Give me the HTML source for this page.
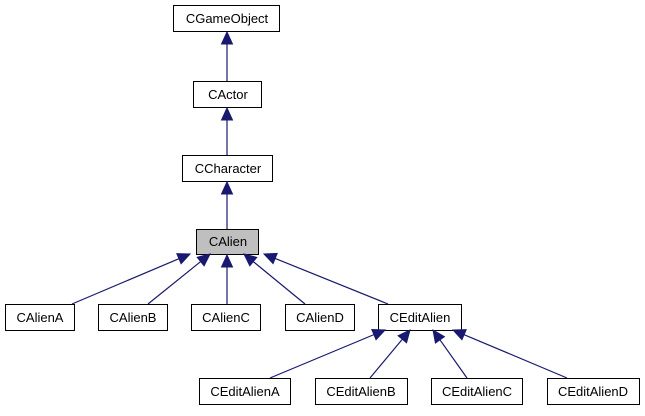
<!DOCTYPE html>
<html><head><meta charset="utf-8"><style>
html,body{margin:0;padding:0;background:#fff;}
svg text{font-family:"Liberation Sans",Arial,sans-serif;font-size:13px;}
</style></head><body>
<svg id="s" width="645" height="411" xmlns="http://www.w3.org/2000/svg">
<g fill="#fff" stroke="#000" stroke-width="1">
<rect x="173.5" y="5.5" width="106" height="26"/>
<rect x="193.5" y="81.5" width="68" height="26"/>
<rect x="182.5" y="155.5" width="90" height="26"/>
<rect x="196.5" y="229.5" width="62" height="25" fill="#bfbfbf"/>
<rect x="5.5" y="304.5" width="69" height="26"/>
<rect x="98.5" y="304.5" width="69" height="26"/>
<rect x="191.5" y="304.5" width="69" height="26"/>
<rect x="285.5" y="304.5" width="69" height="26"/>
<rect x="378.5" y="304.5" width="83" height="26"/>
<rect x="199.5" y="378.5" width="91" height="26"/>
<rect x="315.5" y="378.5" width="92" height="26"/>
<rect x="431.5" y="378.5" width="91" height="26"/>
<rect x="547.5" y="378.5" width="92" height="26"/>
</g>
<g text-anchor="middle" fill="#000">
<text x="227" y="23">CGameObject</text>
<text x="228" y="99">CActor</text>
<text x="228" y="173">CCharacter</text>
<text x="228" y="246">CAlien</text>
<text x="40" y="322">CAlienA</text>
<text x="133" y="322">CAlienB</text>
<text x="226" y="322">CAlienC</text>
<text x="320" y="322">CAlienD</text>
<text x="420" y="322">CEditAlien</text>
<text x="245" y="396">CEditAlienA</text>
<text x="361" y="396">CEditAlienB</text>
<text x="477" y="396">CEditAlienC</text>
<text x="593" y="396">CEditAlienD</text>
</g>
<g id="a"></g>
</svg>
<script>
var arrows=[
[227,81,227,32],[227,155,227,108],[227,229,227,182],
[72,304,190,254],[148,304,210,254],[227,304,227,255],[305,304,244,254],[388,304,264,254],
[270,378,385,330],[370,378,410,330],[467,378,433,330],[567,378,453,330]
];
var g=document.getElementById('a'),h='';
arrows.forEach(function(a){
var x1=a[0],y1=a[1],x2=a[2],y2=a[3],dx=x2-x1,dy=y2-y1,L=Math.sqrt(dx*dx+dy*dy),ux=dx/L,uy=dy/L;
var bx=x2-ux*12,by=y2-uy*12,px=-uy*5.5,py=ux*5.5;
h+='<line x1="'+x1+'" y1="'+y1+'" x2="'+bx+'" y2="'+by+'" stroke="#191970" stroke-width="1.2"/>';
h+='<polygon points="'+x2+','+y2+' '+(bx+px)+','+(by+py)+' '+(bx-px)+','+(by-py)+'" fill="#191970" stroke="#191970"/>';
});
g.innerHTML=h;
</script>
</body></html>
